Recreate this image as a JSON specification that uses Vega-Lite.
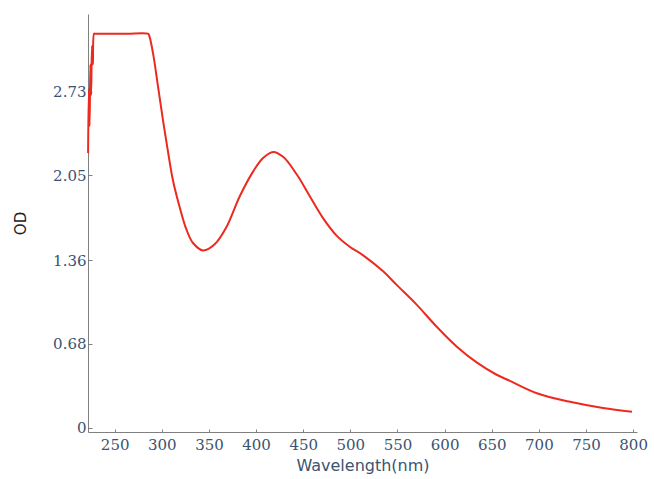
{
  "$schema": "https://vega.github.io/schema/vega-lite/v6.json",
  "autosize": "none",
  "width": 549,
  "height": 418,
  "padding": {"left": 88, "top": 14, "right": 17, "bottom": 47},
  "background": "white",
  "config": {"view": {"stroke": null}},
  "data": {"values": [
    {"wl": 221.8, "od": 2.23},
    {"wl": 222.6, "od": 2.75},
    {"wl": 223.4, "od": 2.45},
    {"wl": 224.2, "od": 2.95},
    {"wl": 225.0, "od": 2.7},
    {"wl": 225.9, "od": 3.1},
    {"wl": 226.9, "od": 2.95},
    {"wl": 228.1, "od": 3.2},
    {"wl": 229.0, "od": 3.2},
    {"wl": 243.3, "od": 3.2},
    {"wl": 263.1, "od": 3.2},
    {"wl": 285.2, "od": 3.2},
    {"wl": 286.4, "od": 3.19},
    {"wl": 290.7, "od": 3.04},
    {"wl": 296.0, "od": 2.77},
    {"wl": 301.2, "od": 2.5},
    {"wl": 306.6, "od": 2.24},
    {"wl": 311.8, "od": 2.01},
    {"wl": 319.0, "od": 1.79},
    {"wl": 326.1, "od": 1.61},
    {"wl": 333.1, "od": 1.5},
    {"wl": 343.7, "od": 1.44},
    {"wl": 356.1, "od": 1.49},
    {"wl": 368.6, "od": 1.63},
    {"wl": 382.7, "od": 1.88},
    {"wl": 396.8, "od": 2.08},
    {"wl": 407.4, "od": 2.19},
    {"wl": 418.1, "od": 2.24},
    {"wl": 428.7, "od": 2.2},
    {"wl": 442.9, "od": 2.06},
    {"wl": 457.0, "od": 1.88},
    {"wl": 471.2, "od": 1.7},
    {"wl": 485.4, "od": 1.56},
    {"wl": 499.3, "od": 1.47},
    {"wl": 513.6, "od": 1.4},
    {"wl": 534.8, "od": 1.27},
    {"wl": 549.1, "od": 1.16},
    {"wl": 570.3, "od": 1.0},
    {"wl": 591.6, "od": 0.82},
    {"wl": 612.7, "od": 0.66},
    {"wl": 634.0, "od": 0.53},
    {"wl": 655.2, "od": 0.43},
    {"wl": 669.4, "od": 0.38},
    {"wl": 697.9, "od": 0.28},
    {"wl": 733.0, "od": 0.21},
    {"wl": 768.0, "od": 0.16},
    {"wl": 798.8, "od": 0.13}
  ]},
  "mark": {"type": "line", "color": "#ec2a1e", "strokeWidth": 2, "interpolate": "catmull-rom"},
  "encoding": {
    "x": {
      "field": "wl", "type": "quantitative",
      "scale": {"domain": [221.7, 804.1], "nice": false, "zero": false},
      "axis": {
        "title": "Wavelength(nm)",
        "values": [250, 300, 350, 400, 450, 500, 550, 600, 650, 700, 750, 800],
        "grid": false,
        "domainColor": "#808080",
        "tickColor": "#808080",
        "tickSize": -3,
        "labelPadding": 8,
        "labelFont": "DejaVu Serif",
        "labelFontSize": 15,
        "labelColor": "#3b5370",
        "titleFont": "DejaVu Sans",
        "titleFontSize": 16,
        "titleFontWeight": "normal",
        "titleColor": "#3b5370",
        "titlePadding": 5
      }
    },
    "y": {
      "field": "od", "type": "quantitative",
      "scale": {"domain": [-0.035, 3.36], "nice": false, "zero": false},
      "axis": {
        "title": "OD",
        "values": [0, 0.68, 1.36, 2.05, 2.73],
        "format": ".2~f",
        "grid": false,
        "domainColor": "#808080",
        "tickColor": "#808080",
        "tickSize": -4,
        "labelPadding": 6,
        "labelFont": "DejaVu Serif",
        "labelFontSize": 15,
        "labelColor": "#3b5370",
        "titleFont": "DejaVu Sans",
        "titleFontSize": 15,
        "titleFontWeight": "normal",
        "titleColor": "#222222",
        "titlePadding": 24
      }
    }
  }
}
